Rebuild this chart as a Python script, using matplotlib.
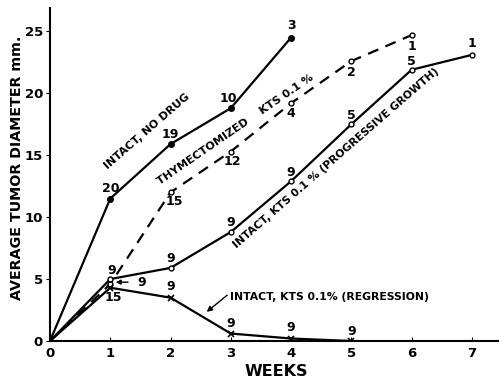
import matplotlib
matplotlib.use("Agg")
import matplotlib.pyplot as plt

weeks_nodrug = [0, 1, 2, 3, 4]
vals_nodrug = [0, 11.5, 15.9, 18.8, 24.5]
n_nodrug = ["", "20", "19", "10", "3"]

weeks_thym = [0, 1, 2, 3, 4, 5, 6]
vals_thym = [0, 4.6, 12.0, 15.3, 19.2, 22.6, 24.7]
n_thym = ["", "15", "15", "12", "4", "2", "1"]

weeks_prog = [0, 1, 2, 3, 4, 5, 6, 7]
vals_prog = [0, 5.0, 5.9, 8.8, 12.9, 17.5, 21.9, 23.1]
n_prog = ["", "9", "9", "9", "9", "5", "5", "1"]

weeks_reg = [0, 1, 2, 3, 4, 5]
vals_reg = [0, 4.3, 3.5, 0.6, 0.2, 0.0]
n_reg = ["", "9", "9", "9", "9", "9"]

xticks = [0, 1, 2, 3, 4, 5, 6, 7]
yticks = [0, 5, 10, 15, 20, 25]

plt.rcParams['font.family'] = ['DejaVu Sans']
plt.rcParams['font.weight'] = 'bold'

fig = plt.figure(figsize=(4.99, 3.79), dpi=100)
ax = fig.add_axes([0.1002, 0.1003, 0.8998, 0.879])
ax.set_xlim(0, 7.45)
ax.set_ylim(0, 26.9)

k = 'black'
ax.plot(weeks_nodrug, vals_nodrug, '-', color=k, lw=1.6, marker='o', ms=4, mfc=k, mec=k)
ax.plot(weeks_thym, vals_thym, '--', color=k, lw=1.6, dashes=(5, 3.5), marker='o', ms=3.5, mfc='white', mec=k, mew=1)
ax.plot(weeks_prog, vals_prog, '-', color=k, lw=1.6, marker='o', ms=3.5, mfc='white', mec=k, mew=1)
ax.plot(weeks_reg, vals_reg, '-', color=k, lw=1.6, marker='x', ms=4, mec=k, mew=1.2)

fs = 9
def lab(x, y, s, dx, dy):
    if s:
        ax.annotate(s, (x, y), xytext=(dx, dy), textcoords='offset points',
                    ha='center', va='center', fontsize=fs, fontweight='bold')

# no drug labels
off_nd = {1: (0, 7), 2: (0, 7), 3: (-2, 7), 4: (0, 8.5)}
for i, (x, y, s) in enumerate(zip(weeks_nodrug, vals_nodrug, n_nodrug)):
    if i in off_nd:
        lab(x, y, s, *off_nd[i])
# thymectomized labels
off_th = {1: (2.5, -10), 2: (3, -6.5), 3: (1, -7.5), 4: (0, -7.5), 5: (0, -8.5), 6: (0, -8)}
for i, (x, y, s) in enumerate(zip(weeks_thym, vals_thym, n_thym)):
    if i in off_th:
        lab(x, y, s, *off_th[i])
# progressive labels
off_pr = {1: (1, 6.5), 2: (0, 7), 3: (0, 6.5), 4: (0, 6.5), 5: (0, 6.5), 6: (0, 6), 7: (0, 8.5)}
for i, (x, y, s) in enumerate(zip(weeks_prog, vals_prog, n_prog)):
    if i in off_pr:
        lab(x, y, s, *off_pr[i])
# regression labels
off_rg = {2: (0, 8), 3: (0, 7), 4: (0, 8), 5: (0, 6.5)}
for i, (x, y, s) in enumerate(zip(weeks_reg, vals_reg, n_reg)):
    if i in off_rg:
        lab(x, y, s, *off_rg[i])
ax.annotate(n_reg[1], (weeks_reg[1] + 0.09, vals_reg[1] + 0.45), xytext=(19, 0), textcoords='offset points',
            ha='center', va='center', fontsize=fs, fontweight='bold',
            arrowprops=dict(arrowstyle='-|>', color=k, lw=1, shrinkA=5, shrinkB=0, mutation_scale=7))

# curve labels
ax.text(1.61, 16.9, "INTACT, NO DRUG", rotation=41, fontsize=8, fontweight='bold', ha='center', va='center')
ax.text(3.08, 17.1, "THYMECTOMIZED    KTS 0.1 %", rotation=34.5, fontsize=8, fontweight='bold', ha='center', va='center')
ax.text(4.74, 14.8, "INTACT, KTS 0.1 % (PROGRESSIVE GROWTH)", rotation=41, fontsize=7.8, fontweight='bold', ha='center', va='center')
ax.text(2.985, 3.56, "INTACT, KTS 0.1% (REGRESSION)", fontsize=7.8, fontweight='bold', ha='left', va='center')
ax.annotate("", xy=(2.60, 2.35), xytext=(2.94, 3.7),
            arrowprops=dict(arrowstyle='-|>', color=k, lw=1, shrinkA=0, shrinkB=0, mutation_scale=8))

ax.spines['top'].set_visible(False)
ax.spines['right'].set_visible(False)
ax.spines['left'].set_linewidth(1.5)
ax.spines['bottom'].set_linewidth(1.5)
ax.set_xticks(xticks)
ax.set_yticks(yticks)
ax.tick_params(axis='x', direction='in', length=3, labelsize=9.5, pad=4)
ax.tick_params(axis='y', direction='out', length=3, labelsize=9.5, pad=2)
for t in ax.get_xticklabels() + ax.get_yticklabels():
    t.set_fontweight('bold')
ax.set_xlabel("WEEKS", fontsize=11.5, fontweight='bold')
ax.xaxis.set_label_coords(0.505, -0.068)
ax.set_ylabel("AVERAGE TUMOR DIAMETER mm.", fontsize=10.3, fontweight='bold')
ax.yaxis.set_label_coords(-0.058, 0.52)

fig.savefig("out.png", dpi=100)
